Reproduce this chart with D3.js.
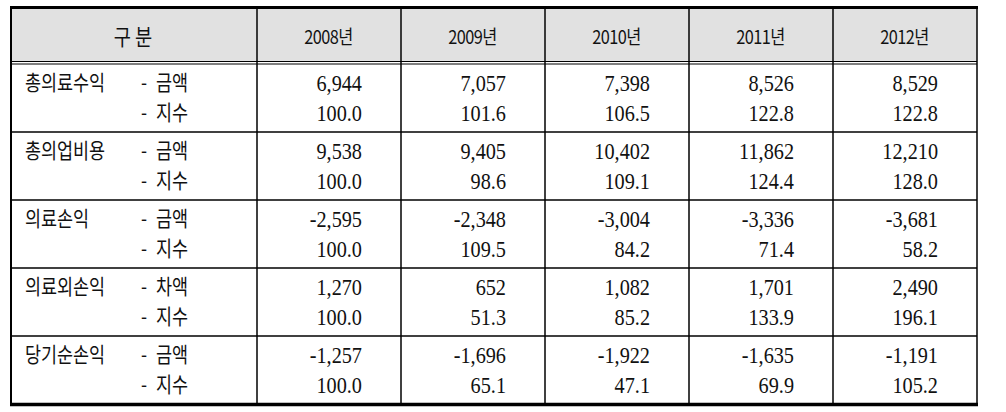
<!DOCTYPE html>
<html><head><meta charset="utf-8">
<script src="https://cdn.jsdelivr.net/npm/d3@7"></script>
<style>body{margin:0;background:#fff}</style>
</head><body>
<script>
const headerFirst = "구 분";
const years = ["2008년","2009년","2010년","2011년","2012년"];
const groups = ["총의료수익","총의업비용","의료손익","의료외손익","당기순손익"];
const subFirst = ["금액","금액","금액","차액","금액"];
const subSecond = ["지수","지수","지수","지수","지수"];
const amounts = [
  ["6,944","7,057","7,398","8,526","8,529"],
  ["9,538","9,405","10,402","11,862","12,210"],
  ["-2,595","-2,348","-3,004","-3,336","-3,681"],
  ["1,270","652","1,082","1,701","2,490"],
  ["-1,257","-1,696","-1,922","-1,635","-1,191"]
];
const indices = [
  ["100.0","101.6","106.5","122.8","122.8"],
  ["100.0","98.6","109.1","124.4","128.0"],
  ["100.0","109.5","84.2","71.4","58.2"],
  ["100.0","51.3","85.2","133.9","196.1"],
  ["100.0","65.1","47.1","69.9","105.2"]
];

const W = 1006, H = 412;
const L = 11, R = 977, firstR = 257;
const headTop = 9, headBot = 61.5, bodyTop = 64, bodyBot = 404;

const svg = d3.select("body").append("svg").attr("width", W).attr("height", H);
const x = d3.scaleBand().domain(years).range([firstR, R]);
const y = d3.scaleBand().domain(groups).range([bodyTop, bodyBot]);

svg.append("rect").attr("x", L).attr("y", headTop).attr("width", R - L).attr("height", headBot - headTop).attr("fill", "#e1e1e1");

const sans = "'Noto Sans CJK KR', 'Noto Sans', sans-serif";
const serif = "'Liberation Serif', 'DejaVu Serif', serif";

function stext(parent, tx, ty, sx, str, opts) {
  const t = parent.append("g").attr("transform", `translate(${tx},${ty}) scale(${sx},1)`)
    .append("text").attr("x", 0).attr("y", 0)
    .attr("text-anchor", opts.anchor || "start").attr("dominant-baseline", "central")
    .attr("font-family", opts.family).attr("font-size", opts.size).attr("fill", "#111")
    .attr("xml:space", "preserve").text(str);
  if (opts.ls) t.attr("letter-spacing", opts.ls);
  return t;
}

stext(svg, (L + firstR) / 2 - 1, 35, 0.85, headerFirst, {anchor: "middle", family: sans, size: 22});
years.forEach(yr => stext(svg, x(yr) + x.bandwidth() / 2 - 0.5, 35.5, 0.86, yr,
  {anchor: "middle", family: sans, size: 19, ls: -0.6}));

const r1 = 20, r2 = 50;
const ks = 21, kx = 0.83;
groups.forEach((gr, i) => {
  const top = y(gr);
  stext(svg, 25, top + r1 - 2.5, kx, gr, {family: sans, size: ks});
  [subFirst, subSecond].forEach((arr, k) => {
    const yy = top + (k ? r2 : r1) - 2.5;
    stext(svg, 141, yy, kx, "-", {family: sans, size: ks});
    stext(svg, 156, yy, kx, arr[i], {family: sans, size: ks});
  });
  years.forEach((yr, j) => {
    const xr = x(yr) + x.bandwidth() - 39;
    stext(svg, xr, top + r1, 0.9, amounts[i][j], {anchor: "end", family: serif, size: 22.5});
    stext(svg, xr, top + r2, 0.9, indices[i][j], {anchor: "end", family: serif, size: 22.5});
  });
});

const line = (x1, y1, x2, y2, w) => svg.append("line").attr("x1", x1).attr("y1", y1).attr("x2", x2).attr("y2", y2)
  .attr("stroke", "#000").attr("stroke-width", w);
line(L - 1, 7.5, R + 1, 7.5, 3);
line(L - 1, 404.5, R + 1, 404.5, 3.5);
line(L, headBot, R, headBot, 1.2);
line(L, bodyTop, R, bodyTop, 1.2);
groups.slice(1).forEach(gr => line(L, y(gr), R, y(gr), 1.5));
line(L, 7, L, 405, 2);
line(R, 7, R, 405, 1.5);
years.forEach(yr => line(x(yr), 7, x(yr), 405, 1.5));
</script>
</body></html>
